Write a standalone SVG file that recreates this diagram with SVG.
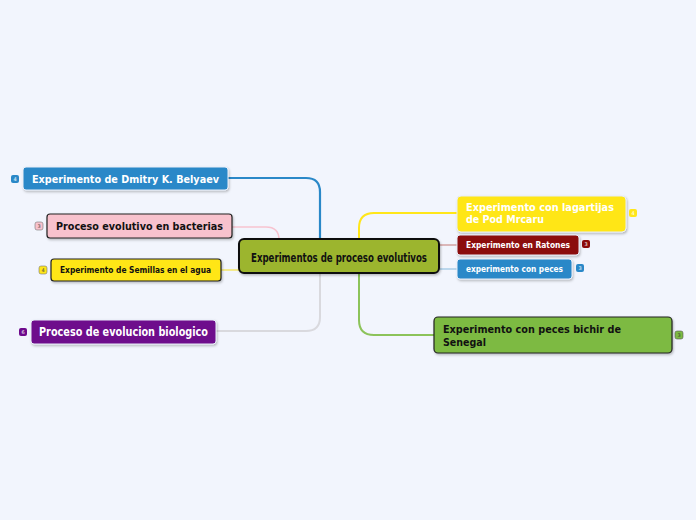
<svg xmlns="http://www.w3.org/2000/svg" width="696" height="520" viewBox="0 0 696 520">
<defs>
<filter id="sh" x="-10%" y="-20%" width="130%" height="160%">
<feDropShadow dx="1" dy="1.5" stdDeviation="1" flood-color="#000" flood-opacity="0.25"/>
</filter>
</defs>
<style>
.t{font-family:"DejaVu Sans","Verdana",sans-serif;font-weight:bold}
.c{fill:none;stroke-linecap:round}
.b{font-family:"DejaVu Sans",sans-serif;font-size:5px;text-anchor:middle}
</style>
<rect width="696" height="520" fill="#f2f5fd"/>
<g id="connectors">
<path class="c" d="M228 178 H306 Q320 178 320 192 V240" stroke="#2a88c8" stroke-width="2.2"/>
<path class="c" d="M232 227 H266 Q279 227 279 240" stroke="#f7c3d0" stroke-width="1.5"/>
<path class="c" d="M221 270 H239" stroke="#f5e66a" stroke-width="1.5"/>
<path class="c" d="M216 331 H306 Q320 331 320 317 V272" stroke="#d9d9de" stroke-width="2"/>
<path class="c" d="M359 240 V228 Q359 213 374 213 H457" stroke="#ffe619" stroke-width="2"/>
<path class="c" d="M439 245 H457" stroke="#d3a3a3" stroke-width="1.5"/>
<path class="c" d="M439 269 H457" stroke="#a9cde8" stroke-width="1.5"/>
<path class="c" d="M359 273 V320 Q359 335 374 335 H434" stroke="#8cc35a" stroke-width="2"/>
</g>
<g id="central">
<rect x="239" y="239" width="200" height="34" rx="5" fill="#9cb52e" stroke="#111" stroke-width="2" filter="url(#sh)"/>
<text x="339" y="262" font-family="DejaVu Sans Condensed, sans-serif" font-weight="bold" font-size="13" text-anchor="middle" fill="#111" textLength="176" lengthAdjust="spacingAndGlyphs">Experimentos de proceso evolutivos</text>
</g>
<g id="n1">
<rect x="23" y="167" width="205" height="23" rx="3" fill="#2a88c8" stroke="#e8eef8" stroke-width="1" filter="url(#sh)"/>
<text class="t" x="32" y="182.5" font-size="11" fill="#fff" textLength="187" lengthAdjust="spacingAndGlyphs">Experimento de Dmitry K. Belyaev</text>
<rect x="11" y="175" width="8" height="8" rx="2" fill="#2a88c8"/>
<text class="b" x="15" y="181" fill="#fff">4</text>
</g>
<g id="n2">
<rect x="47" y="214" width="185" height="24" rx="3" fill="#f8c2cd" stroke="#222" stroke-width="1.2" filter="url(#sh)"/>
<text class="t" x="56" y="230" font-size="11" fill="#111" textLength="167" lengthAdjust="spacingAndGlyphs">Proceso evolutivo en bacterias</text>
<rect x="35" y="222" width="8" height="8" rx="2" fill="#f8c2cd" stroke="#777" stroke-width="0.6"/>
<text class="b" x="39" y="228" fill="#444">3</text>
</g>
<g id="n3">
<rect x="51" y="259" width="170" height="22" rx="3" fill="#ffe619" stroke="#222" stroke-width="1.2" filter="url(#sh)"/>
<text class="t" x="60" y="273" font-size="8" fill="#111" textLength="151" lengthAdjust="spacingAndGlyphs">Experimento de Semillas en el agua</text>
<rect x="39" y="266" width="8" height="8" rx="2" fill="#ffe619" stroke="#777" stroke-width="0.6"/>
<text class="b" x="43" y="272" fill="#444">4</text>
</g>
<g id="n4">
<rect x="31" y="320" width="185" height="24" rx="3" fill="#6e0a8c" stroke="#e8eef8" stroke-width="1" filter="url(#sh)"/>
<text class="t" x="39" y="336" font-size="11.5" fill="#fff" textLength="169" lengthAdjust="spacingAndGlyphs">Proceso de evolucion biologico</text>
<rect x="19" y="328" width="8" height="8" rx="2" fill="#6e0a8c"/>
<text class="b" x="23" y="334" fill="#fff">6</text>
</g>
<g id="n5">
<rect x="457" y="196" width="169" height="36" rx="4" fill="#ffe619" stroke="#e8eef8" stroke-width="1" filter="url(#sh)"/>
<text class="t" x="466" y="211" font-size="10" fill="#fff" textLength="148" lengthAdjust="spacingAndGlyphs">Experimento con lagartijas</text>
<text class="t" x="466" y="223" font-size="10.5" fill="#fff" textLength="78" lengthAdjust="spacingAndGlyphs">de Pod Mrcaru</text>
<rect x="629" y="209" width="8" height="8" rx="2" fill="#ffe619"/>
<text class="b" x="633" y="215" fill="#fff">4</text>
</g>
<g id="n6">
<rect x="457" y="235" width="122" height="20" rx="3" fill="#8b0a0a" stroke="#e8eef8" stroke-width="1" filter="url(#sh)"/>
<text class="t" x="466" y="248" font-size="8" fill="#fff" textLength="104" lengthAdjust="spacingAndGlyphs">Experimento en Ratones</text>
<rect x="582" y="240" width="8" height="8" rx="2" fill="#8b0a0a"/>
<text class="b" x="586" y="246" fill="#fff">3</text>
</g>
<g id="n7">
<rect x="457" y="259" width="115" height="20" rx="3" fill="#2a88c8" stroke="#e8eef8" stroke-width="1" filter="url(#sh)"/>
<text class="t" x="466" y="272" font-size="8" fill="#fff" textLength="97" lengthAdjust="spacingAndGlyphs">experimento con peces</text>
<rect x="576" y="264" width="8" height="8" rx="2" fill="#2a88c8"/>
<text class="b" x="580" y="270" fill="#fff">3</text>
</g>
<g id="n8">
<rect x="434" y="317" width="238" height="36" rx="4" fill="#7dba42" stroke="#222" stroke-width="1.2" filter="url(#sh)"/>
<text class="t" x="443" y="333" font-size="11" fill="#111" textLength="178" lengthAdjust="spacingAndGlyphs">Experimento con peces bichir de</text>
<text class="t" x="443" y="345.5" font-size="11" fill="#111" textLength="43" lengthAdjust="spacingAndGlyphs">Senegal</text>
<rect x="675" y="331" width="8" height="8" rx="2" fill="#7dba42" stroke="#555" stroke-width="0.6"/>
<text class="b" x="679" y="337" fill="#333">3</text>
</g>
</svg>
